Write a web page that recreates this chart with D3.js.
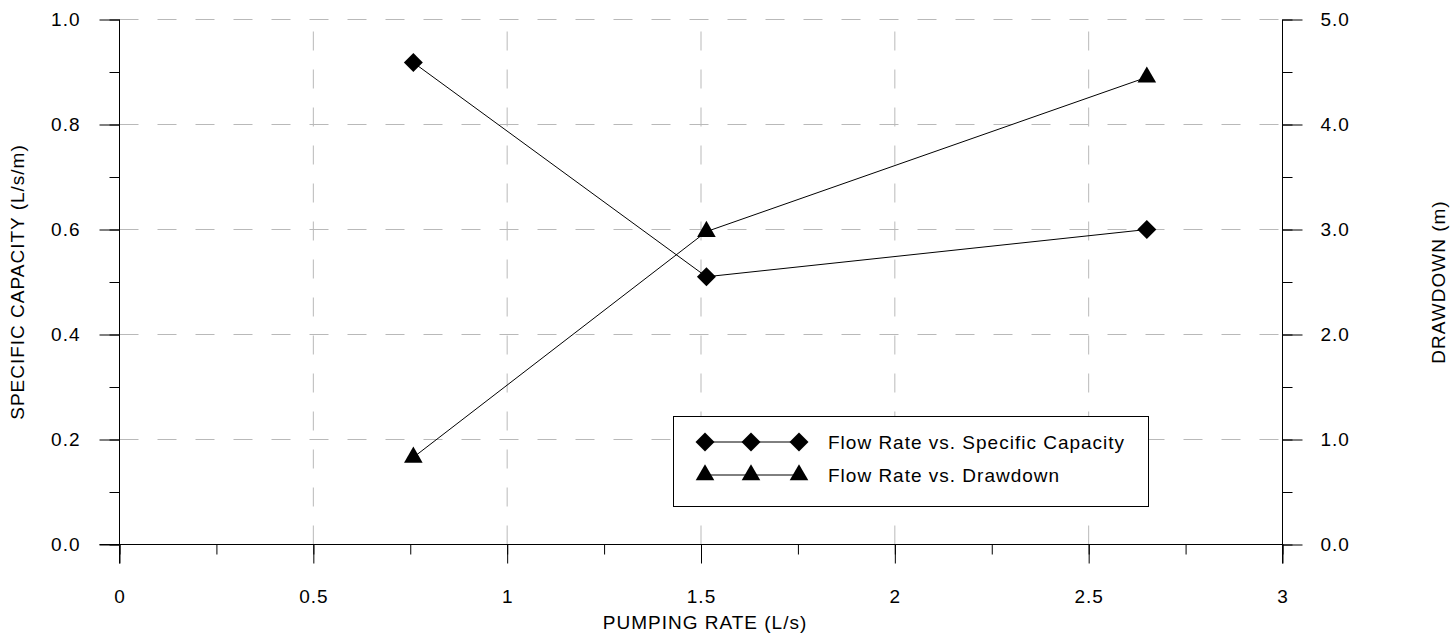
<!DOCTYPE html>
<html><head><meta charset="utf-8">
<script src="https://cdn.jsdelivr.net/npm/d3@7"></script>
<style>body{margin:0;background:#fff}text{font-family:"Liberation Sans",Arial,sans-serif;fill:#000;letter-spacing:1px}</style>
</head><body><svg id="c" width="1456" height="634"></svg>
<script>
const flowCap = [0.758, 1.514, 2.65];
const specCap = [0.918, 0.51, 0.60];
const flowDD = [0.758, 1.514, 2.65];
const drawdown = [0.83, 2.98, 4.45];
const xTicks = [0, 0.5, 1, 1.5, 2, 2.5, 3];
const yLeftTicks = [0, 0.2, 0.4, 0.6, 0.8, 1.0];
const yRightTicks = [0, 1, 2, 3, 4, 5];
const seriesNames = ["Flow Rate vs. Specific Capacity", "Flow Rate vs. Drawdown"];

const FS = "19px";
const svg = d3.select("#c");
const L = 119.5, R = 1282.5, T = 19.5, B = 544.5;
const x = d3.scaleLinear().domain([0, 3]).range([L, R]);
const yL = d3.scaleLinear().domain([0, 1]).range([B, T]);
const yR = d3.scaleLinear().domain([0, 5]).range([B, T]);

// grid
const grid = svg.append("g").attr("stroke", "#b9b9b9").attr("stroke-width", 1).attr("stroke-dasharray", "19,19");
xTicks.filter(d => d > 0 && d < 3).forEach(d => {
  grid.append("line").attr("x1", x(d)).attr("x2", x(d)).attr("y1", B).attr("y2", T);
});
yLeftTicks.filter(d => d > 0).forEach(d => {
  grid.append("line").attr("x1", L).attr("x2", R).attr("y1", yL(d)).attr("y2", yL(d));
});

// axes
function styleAxis(g) {
  g.select(".domain").remove();
  g.selectAll("line").attr("stroke", "#000");
  g.selectAll("text").style("font-size", FS).style("font-family", "Liberation Sans, Arial, sans-serif");
}
const xMinor = d3.range(0, 3.001, 0.25);
svg.append("g").attr("transform", `translate(0,${B})`)
  .call(d3.axisBottom(x).tickValues(xMinor).tickSize(10).tickFormat(""))
  .call(styleAxis);
svg.append("g").attr("transform", `translate(0,${B})`)
  .call(d3.axisBottom(x).tickValues(xTicks).tickSize(19).tickPadding(26).tickFormat(d3.format("")))
  .call(styleAxis);

const yLMinor = d3.range(0, 1.001, 0.1);
svg.append("g").attr("transform", `translate(${L},0)`)
  .call(d3.axisLeft(yL).tickValues(yLMinor).tickSize(10).tickFormat(""))
  .call(styleAxis);
svg.append("g").attr("transform", `translate(${L},0)`)
  .call(d3.axisLeft(yL).tickValues(yLeftTicks).tickSize(20).tickPadding(19).tickFormat(d3.format(".1f")))
  .call(styleAxis);

const yRMinor = d3.range(0, 5.001, 0.5);
svg.append("g").attr("transform", `translate(${R},0)`)
  .call(d3.axisRight(yR).tickValues(yRMinor).tickSize(10).tickFormat(""))
  .call(styleAxis);
svg.append("g").attr("transform", `translate(${R},0)`)
  .call(d3.axisRight(yR).tickValues(yRightTicks).tickSize(20).tickPadding(18).tickFormat(d3.format(".1f")))
  .call(styleAxis);

// axis lines
svg.append("line").attr("x1", L - 20).attr("x2", R).attr("y1", B).attr("y2", B).attr("stroke", "#000");
svg.append("line").attr("x1", L).attr("x2", L).attr("y1", T).attr("y2", B + 19).attr("stroke", "#000");
svg.append("line").attr("x1", R).attr("x2", R).attr("y1", T).attr("y2", B + 19).attr("stroke", "#000");

// titles
svg.append("text").attr("x", 705).attr("y", 629).attr("text-anchor", "middle").style("font-size", FS).text("PUMPING RATE (L/s)");
svg.append("text").attr("transform", `translate(24,${(T + B) / 2}) rotate(-90)`).attr("text-anchor", "middle").style("font-size", FS).text("SPECIFIC CAPACITY (L/s/m)");
svg.append("text").attr("transform", `translate(1445,${(T + B) / 2}) rotate(-90)`).attr("text-anchor", "middle").style("font-size", FS).text("DRAWDOWN (m)");

// series
const diamond = d3.symbol().type(d3.symbolSquare).size(180);
const tri = d3.symbol().type(d3.symbolTriangle).size(150);
const capData = flowCap.map((f, i) => [f, specCap[i]]);
const ddData = flowDD.map((f, i) => [f, drawdown[i]]);
svg.append("path").datum(capData).attr("fill", "none").attr("stroke", "#000").attr("stroke-width", 1)
  .attr("d", d3.line().x(d => x(d[0])).y(d => yL(d[1])));
svg.append("path").datum(ddData).attr("fill", "none").attr("stroke", "#000").attr("stroke-width", 1)
  .attr("d", d3.line().x(d => x(d[0])).y(d => yR(d[1])));
svg.selectAll(".dm").data(capData).enter().append("path")
  .attr("transform", d => `translate(${x(d[0])},${yL(d[1])}) rotate(45)`).attr("d", diamond).attr("fill", "#000");
svg.selectAll(".tr").data(ddData).enter().append("path")
  .attr("transform", d => `translate(${x(d[0])},${yR(d[1])})`).attr("d", tri).attr("fill", "#000");

// legend
const lg = svg.append("g");
lg.append("rect").attr("x", 673.5).attr("y", 416.5).attr("width", 475).attr("height", 90).attr("fill", "#fff").attr("stroke", "#000");
const sx = [705, 751, 799];
[442, 475].forEach((yy, i) => {
  lg.append("line").attr("x1", sx[0]).attr("x2", sx[2]).attr("y1", yy).attr("y2", yy).attr("stroke", "#000");
  sx.forEach(xx => {
    lg.append("path").attr("transform", i === 0 ? `translate(${xx},${yy}) rotate(45)` : `translate(${xx},${yy})`)
      .attr("d", i === 0 ? diamond : tri).attr("fill", "#000");
  });
  lg.append("text").attr("x", 828).attr("y", yy + 7).style("font-size", FS).text(seriesNames[i]);
});
</script></body></html>
